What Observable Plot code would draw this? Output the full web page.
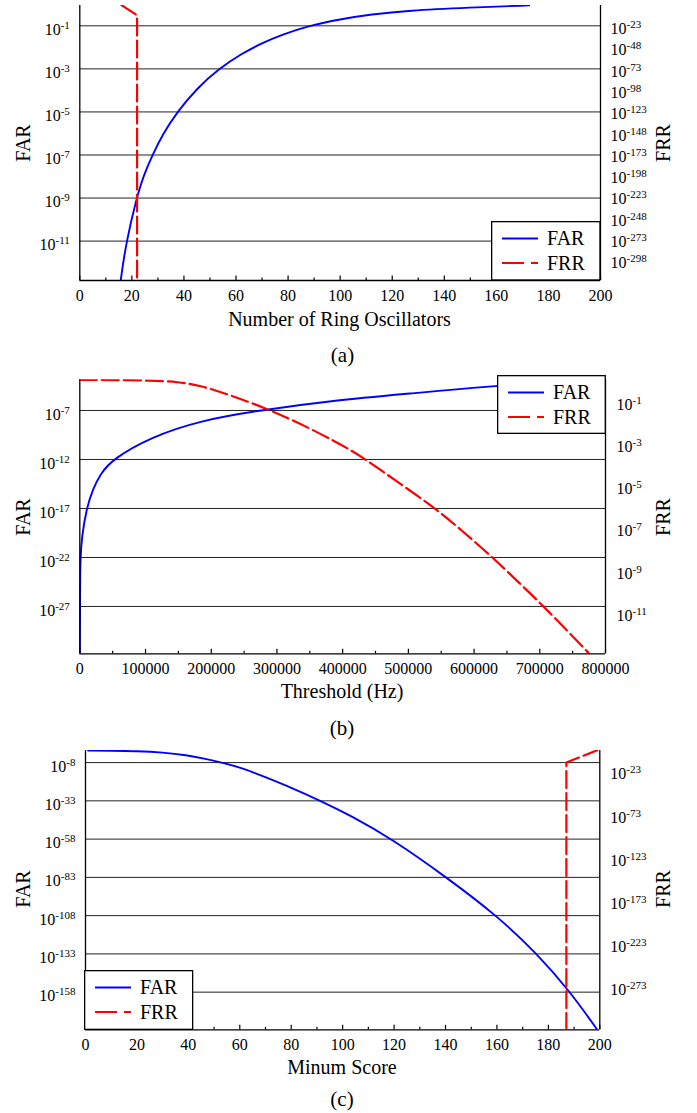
<!DOCTYPE html>
<html><head><meta charset="utf-8">
<script src="https://cdn.jsdelivr.net/npm/d3@7"></script>
<script src="https://cdn.jsdelivr.net/npm/@observablehq/plot@0.6"></script>
<style>
body{margin:0;background:#fff;font-family:"Liberation Serif","DejaVu Serif",serif;color:#000;}
#root{position:relative;width:697px;height:1113px;overflow:hidden;}
</style></head><body><div id="root"></div>
<script>
// ---------- data (y values are log10 of the rate) ----------
// (a) Number of ring oscillators
const roX      = [15.2, 15.6, 17.9, 21.8, 24.5, 27.9, 32, 37.4, 45, 53.4, 62, 70, 78, 87.9, 100, 112, 125.7, 150, 172.6];
const roFAR    = [-13.5, -12.85, -11, -9, -7.95, -7, -6.0, -5, -3.9, -3, -2.3, -1.8, -1.4, -1, -0.69, -0.47, -0.29, -0.15, -0.05];
const roFRRX   = [16, 22, 22];
const roFRR    = [0.5, -11.4, -400];
// (b) Threshold (Hz)
const thrX     = [0, 300, 1000, 3000, 10200, 20000, 31500, 49300, 107600, 183700, 272000, 386600, 498000, 635000, 800000];
const thrFAR   = [-40, -25, -22, -19.9, -17, -15, -13.46, -12, -9.72, -8.02, -7, -5.98, -5.3, -4.45, -3.87];
const thrFRRX  = [0, 50000, 107600, 150000, 183700, 230000, 284800, 330000, 386600, 426800, 480000, 538800, 580000, 627600, 670000, 706700, 740000, 775300, 790000];
const thrFRR   = [0, -0.01, -0.03, -0.1, -0.27, -0.74, -1.37, -2.0, -2.88, -3.59, -4.77, -6.04, -7.11, -8.41, -9.67, -10.78, -11.85, -12.99, -13.5];
// (c) Minimum score
const scoreX   = [1, 10, 20, 30, 39.5, 46, 53.2, 61, 70, 80, 91.4, 103, 119.3, 140.4, 160, 175.7, 188.6, 199, 200];
const scoreFAR = [-0.15, -0.2, -0.5, -1.3, -3.1, -5.3, -8, -11.6, -17.6, -24.4, -33, -42.5, -58, -83, -108, -133, -158, -182.5, -185];
const scoreFRRX = [187, 187, 199];
const scoreFRR  = [-400, -13.9, 0.3];

// tick labels (exponents)
const aLeftTicks  = [-1, -3, -5, -7, -9, -11];
const aRightTicks = [-23, -48, -73, -98, -123, -148, -173, -198, -223, -248, -273, -298];
const bLeftTicks  = [-7, -12, -17, -22, -27];
const bRightTicks = [-1, -3, -5, -7, -9, -11];
const cLeftTicks  = [-8, -33, -58, -83, -108, -133, -158];
const cRightTicks = [-23, -73, -123, -173, -223, -273];
const aXTicks = [0, 20, 40, 60, 80, 100, 120, 140, 160, 180, 200];
const aXMinor = [10, 30, 50, 70, 90, 110, 130, 150, 170, 190];
const bXTicks = [0, 100000, 200000, 300000, 400000, 500000, 600000, 700000, 800000];
const bXMinor = [50000, 150000, 250000, 350000, 450000, 550000, 650000, 750000];
const cXTicks = aXTicks, cXMinor = aXMinor;

const root = document.getElementById("root");
const SVGNS = "http://www.w3.org/2000/svg";
const FONT = "'Liberation Serif', 'DejaVu Serif', serif";

function supify(svg) {
  svg.querySelectorAll("text").forEach(t => {
    const m = /^10\^(.+)$/.exec(t.textContent);
    if (!m) return;
    t.textContent = "10";
    const s = document.createElementNS(SVGNS, "tspan");
    s.setAttribute("dy", "-6");
    s.setAttribute("font-size", "11");
    s.textContent = m[1];
    t.appendChild(s);
  });
}

function panel(c) {
  const {leftDom: L, rightDom: R} = c;
  const toL = v => L[0] + (v - R[0]) * (L[1] - L[0]) / (R[1] - R[0]);
  const toR = y => R[0] + (y - L[0]) * (R[1] - R[0]) / (L[1] - L[0]);
  const far = c.xs.map((x, i) => ({x, y: c.far[i]}));
  const frr = c.frrX.map((x, i) => ({x, y: toL(c.frr[i])}));
  const H = c.height - c.mt - c.mb;
  const svg = Plot.plot({
    width: 697, height: c.height,
    marginTop: c.mt, marginBottom: c.mb, marginLeft: c.ml, marginRight: c.mr,
    style: {fontFamily: FONT, fontSize: "16px", color: "#000", background: "transparent", overflow: "visible"},
    x: {domain: c.xDomain, type: "linear"},
    y: {domain: L, type: "linear"},
    marks: [
      Plot.ruleY(c.leftTicks, {stroke: "#222", strokeWidth: 1}),
      Plot.line(far, {x: "x", y: "y", stroke: "#0000ff", strokeWidth: 1.9, curve: "basis", clip: true}),
      Plot.line(frr, {x: "x", y: "y", stroke: "#ff0000", strokeWidth: 2.2, strokeDasharray: "17,5", curve: c.frrCurve, clip: true}),
      Plot.ruleX(c.xDomain, {stroke: "#000", strokeWidth: 1.3}),
      Plot.ruleY([L[0]], {stroke: "#000", strokeWidth: 1.3}),
      Plot.tickX(c.xTicks, {x: d => d, insetTop: H - 4.5, stroke: "#000", strokeWidth: 1.2}),
      Plot.tickX(c.xMinor, {x: d => d, insetTop: H - 2.5, stroke: "#000", strokeWidth: 1.2}),
      Plot.axisX(c.xTicks, {anchor: "bottom", tickSize: 0, tickPadding: 9, tickFormat: d => String(d), fontSize: 16, label: null}),
      Plot.axisY(c.leftTicks, {anchor: "left", tickSize: 0, tickPadding: 10, tickFormat: d => "10^" + d, fontSize: 16, dy: 4, label: null}),
      Plot.axisY(c.rightTicks.map(toL), {anchor: "right", tickSize: 0, tickPadding: c.rpad, tickFormat: d => "10^" + Math.round(toR(d)), fontSize: 16, dy: 4, label: null})
    ]
  });
  supify(svg);
  svg.style.position = "absolute";
  svg.style.left = "0px";
  svg.style.top = c.top + "px";
  root.appendChild(svg);
}

function addText(txt, cx, cy, size, rot) {
  const d = document.createElement("div");
  d.textContent = txt;
  d.style.cssText = `position:absolute;left:${cx}px;top:${cy}px;font-family:${FONT};font-size:${size}px;line-height:1;white-space:nowrap;transform:translate(-50%,-50%)${rot ? ` rotate(${rot}deg)` : ""};`;
  root.appendChild(d);
}

function legend(left, top, w, h) {
  const d = document.createElement("div");
  d.style.cssText = `position:absolute;left:${left}px;top:${top}px;width:${w}px;height:${h}px;`;
  d.innerHTML = `<svg width="${w}" height="${h}" style="display:block;font-family:${FONT}">
   <rect x="0.65" y="0.65" width="${w - 1.3}" height="${h - 1.3}" fill="#fff" stroke="#000" stroke-width="1.3"/>
   <line x1="11" x2="47" y1="17.5" y2="17.5" stroke="#0000ff" stroke-width="1.9"/>
   <text x="56" y="17.5" dy="0.33em" font-size="20">FAR</text>
   <line x1="11" x2="47" y1="42" y2="42" stroke="#ff0000" stroke-width="2.2" stroke-dasharray="22,7"/>
   <text x="56" y="42" dy="0.33em" font-size="20">FRR</text></svg>`;
  root.appendChild(d);
}

// (a)
panel({top: 0, height: 305, mt: 5, mb: 25, ml: 79.3, mr: 97, rpad: 10,
  xDomain: [0, 200], leftDom: [-12.83, -0.056], rightDom: [-323.3, 0],
  xs: roX, far: roFAR, frrX: roFRRX, frr: roFRR, frrCurve: "linear",
  leftTicks: aLeftTicks, rightTicks: aRightTicks, xTicks: aXTicks, xMinor: aXMinor});
// (b)
panel({top: 370, height: 310, mt: 9.3, mb: 26.7, ml: 79.3, mr: 92, rpad: 11,
  xDomain: [0, 800000], leftDom: [-31.83, -3.87], rightDom: [-13, 0],
  xs: thrX, far: thrFAR, frrX: thrFRRX, frr: thrFRR, frrCurve: "basis",
  leftTicks: bLeftTicks, rightTicks: bRightTicks, xTicks: bXTicks, xMinor: bXMinor});
// (c)
panel({top: 740, height: 315, mt: 10, mb: 25.7, ml: 85, mr: 97.7, rpad: 10.5,
  xDomain: [0, 200], leftDom: [-182.6, -0.1], rightDom: [-323.3, 0],
  xs: scoreX, far: scoreFAR, frrX: scoreFRRX, frr: scoreFRR, frrCurve: "linear",
  leftTicks: cLeftTicks, rightTicks: cRightTicks, xTicks: cXTicks, xMinor: cXMinor});

// legends
legend(491, 221, 109.6, 59.6);
legend(496.7, 375, 108.9, 59);
legend(84.4, 970, 109.3, 60);

// axis titles & captions
addText("Number of Ring Oscillators", 339.5, 318.5, 20);
addText("Threshold (Hz)", 342, 690.5, 20);
addText("Minum Score", 342, 1066.5, 20);
addText("FAR", 23.3, 143, 20, -90);
addText("FRR", 663.3, 143, 20, -90);
addText("FAR", 23.3, 516.5, 20, -90);
addText("FRR", 663.3, 516.5, 20, -90);
addText("FAR", 23.3, 889, 20, -90);
addText("FRR", 663.3, 889, 20, -90);
addText("(a)", 342.5, 355, 21);
addText("(b)", 342, 728, 21);
addText("(c)", 342, 1099, 21);
</script></body></html>
